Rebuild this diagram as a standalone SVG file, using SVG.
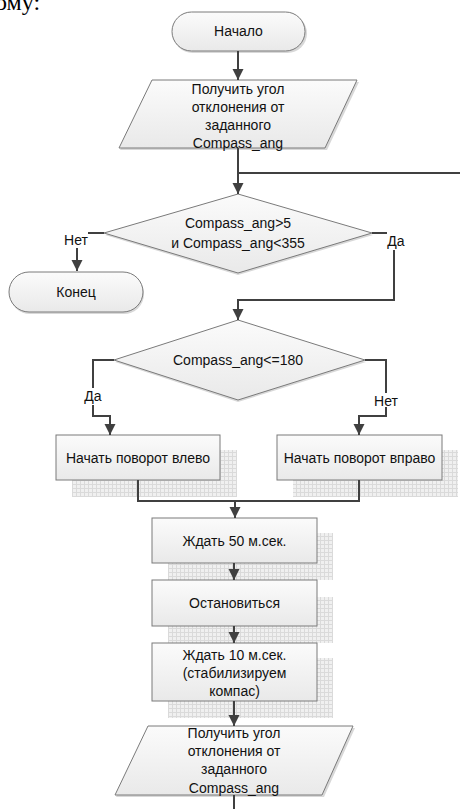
<svg xmlns="http://www.w3.org/2000/svg" width="460" height="809" viewBox="0 0 460 809">
<defs>
<linearGradient id="fillg" x1="0" y1="0" x2="0" y2="1">
<stop offset="0" stop-color="#fbfbfb"/>
<stop offset="1" stop-color="#e9e9e9"/>
</linearGradient>
<pattern id="grid" width="4" height="4" patternUnits="userSpaceOnUse">
<rect width="4" height="4" fill="#f0f0f0"/>
<path d="M0 0.5H4M0.5 0V4" stroke="#dadada" stroke-width="1"/>
</pattern>
<marker id="arr" markerWidth="12" markerHeight="12" refX="11" refY="6" orient="auto" markerUnits="userSpaceOnUse">
<path d="M0 0.5L11 6L0 11.5Z" fill="#404040"/>
</marker>
</defs>
<style>
.shape{fill:url(#fillg);stroke:#7a7a7a;stroke-width:1}
.sh{fill:#d8d8d8;stroke:none}
.grid{fill:url(#grid)}
.t{font-family:"Liberation Sans",Arial,sans-serif;font-size:14px;fill:#111;text-anchor:middle}
.lbl{font-family:"Liberation Sans",Arial,sans-serif;font-size:14px;fill:#111;text-anchor:middle}
.c{fill:none;stroke:#404040;stroke-width:2}
.ca{fill:none;stroke:#404040;stroke-width:2;marker-end:url(#arr)}
.doc{font-family:"Liberation Serif","Times New Roman",serif;font-size:24px;fill:#000}
</style>
<text class="doc" x="-5" y="10">ому:</text>

<g id="start">
<rect class="sh" x="173" y="14" width="134" height="39" rx="19.5"/>
<rect class="shape" x="172" y="12" width="133" height="39" rx="19.5"/>
<text class="t" x="238.5" y="36">Начало</text>
</g>

<g id="input1">
<polygon class="sh" points="153,82 359,82 327,150 120,150"/>
<polygon class="shape" points="152,80 357,80 325,148 119,148"/>
<text class="t" x="238" y="94">Получить угол</text>
<text class="t" x="238" y="112">отклонения от</text>
<text class="t" x="238" y="130">заданного</text>
<text class="t" x="238" y="148">Compass_ang</text>
</g>

<g id="cond1">
<polygon class="sh" points="238,196 373,235 238,275 105,235"/>
<polygon class="shape" points="238,194 372,233 238,273 104,233"/>
<text class="t" x="238" y="228">Compass_ang&gt;5</text>
<text class="t" x="238" y="248">и Compass_ang&lt;355</text>
</g>

<g id="end">
<rect class="sh" x="10" y="274" width="134" height="40" rx="20"/>
<rect class="shape" x="9" y="272" width="134" height="40" rx="20"/>
<text class="t" x="76" y="297">Конец</text>
</g>

<g id="cond2">
<polygon class="sh" points="238,322 366,362 238,402 115,362"/>
<polygon class="shape" points="238,320 365,360 238,400 114,360"/>
<text class="t" x="238" y="365">Compass_ang&lt;=180</text>
</g>

<g id="left">
<rect class="grid" x="72" y="450" width="165" height="47"/>
<rect class="shape" x="56" y="435" width="164" height="45"/>
<text class="t" x="138" y="463">Начать поворот влево</text>
</g>

<g id="right">
<rect class="grid" x="293" y="450" width="165" height="47"/>
<rect class="shape" x="277" y="435" width="165" height="45"/>
<text class="t" x="359.5" y="463">Начать поворот вправо</text>
</g>

<g id="wait50">
<rect class="grid" x="168" y="533" width="165" height="47"/>
<rect class="shape" x="152" y="518" width="165" height="45"/>
<text class="t" x="234.5" y="546">Ждать 50 м.сек.</text>
</g>

<g id="stop">
<rect class="grid" x="168" y="597" width="165" height="46"/>
<rect class="shape" x="152" y="580" width="165" height="46"/>
<text class="t" x="234.5" y="608">Остановиться</text>
</g>

<g id="wait10">
<rect class="grid" x="168" y="658" width="165" height="60"/>
<rect class="shape" x="152" y="643" width="165" height="58"/>
<text class="t" x="234.5" y="660">Ждать 10 м.сек.</text>
<text class="t" x="234.5" y="678">(стабилизируем</text>
<text class="t" x="234.5" y="696">компас)</text>
</g>

<g id="input2">
<polygon class="sh" points="149,728 355,728 324,797 116,797"/>
<polygon class="shape" points="148,726 353,726 322,795 115,795"/>
<text class="t" x="234" y="738">Получить угол</text>
<text class="t" x="234" y="756">отклонения от</text>
<text class="t" x="234" y="774">заданного</text>
<text class="t" x="234" y="793">Compass_ang</text>
</g>

<g id="connectors">
<path class="ca" d="M238 51V80"/>
<path class="ca" d="M238 148V194"/>
<path class="c" d="M238 173H462"/>
<path class="c" d="M104 233H88"/>
<path class="ca" d="M77 248V271"/>
<path class="c" d="M372 233H387"/>
<path class="ca" d="M394 250V300H238V320"/>
<path class="c" d="M114 360H93V388"/>
<path class="ca" d="M93 405V416H110V435"/>
<path class="c" d="M365 360H386V393"/>
<path class="ca" d="M386 407V416H359V435"/>
<path class="c" d="M138 480V501H359V480"/>
<path class="ca" d="M235 501V518"/>
<path class="ca" d="M234 563V580"/>
<path class="ca" d="M234 626V643"/>
<path class="ca" d="M234 701V726"/>
<path class="c" d="M234 795V810"/>
<text class="lbl" x="76" y="245">Нет</text>
<text class="lbl" x="396" y="246">Да</text>
<text class="lbl" x="93" y="401">Да</text>
<text class="lbl" x="386" y="406">Нет</text>
</g>
</svg>
